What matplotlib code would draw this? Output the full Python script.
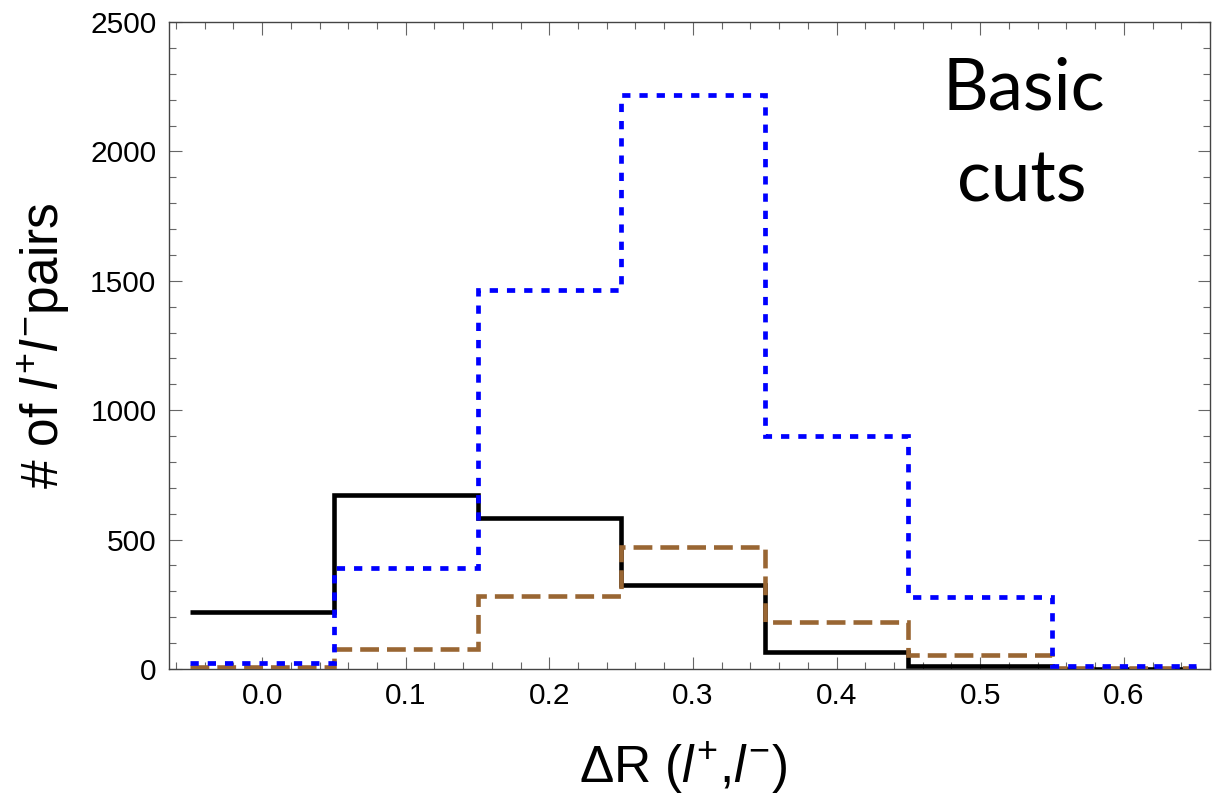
import matplotlib
matplotlib.use("Agg")
import matplotlib.pyplot as plt
from matplotlib.ticker import MultipleLocator, FormatStrFormatter

# ---- data ----
bin_edges = [-0.05, 0.05, 0.15, 0.25, 0.35, 0.45, 0.55, 0.65]
black_counts = [219, 672, 585, 326, 64, 11, 1]
brown_counts = [8, 77, 282, 472, 182, 55, 3]
blue_counts = [22, 390, 1466, 2218, 900, 277, 13]
x_ticks = [0.0, 0.1, 0.2, 0.3, 0.4, 0.5, 0.6]
y_ticks = [0, 500, 1000, 1500, 2000, 2500]

plt.rcParams['font.family'] = ['Liberation Sans', 'DejaVu Sans']
plt.rcParams['mathtext.fontset'] = 'custom'
plt.rcParams['mathtext.rm'] = 'Liberation Sans'
plt.rcParams['mathtext.it'] = 'Liberation Sans:italic'

W, H = 1212, 798
fig = plt.figure(figsize=(W / 100, H / 100), dpi=100)
ax = fig.add_axes([169 / W, 1 - 669 / H, (1210 - 169) / W, (669 - 22) / H])

ax.stairs(black_counts, bin_edges, baseline=None, color='black', lw=3.3, zorder=3)
ax.stairs(brown_counts, bin_edges, baseline=None, color='#996633', lw=3.3,
          linestyle=(0, (4.1, 1.75)), zorder=4)
ax.stairs(blue_counts, bin_edges, baseline=None, color='#0000FF', lw=3.4,
          linestyle=(0, (1.75, 1.9)), zorder=5)

ax.set_xlim(-0.0648, 0.660)
ax.set_ylim(0, 2500)
ax.set_xticks(x_ticks)
ax.set_yticks(y_ticks)
ax.xaxis.set_major_formatter(FormatStrFormatter('%.1f'))
ax.xaxis.set_minor_locator(MultipleLocator(0.02))
ax.yaxis.set_minor_locator(MultipleLocator(100))

ax.tick_params(which='both', direction='in', top=True, right=True,
               color='#666666', width=0.8, labelsize=21.5)
ax.tick_params(which='major', length=9)
ax.tick_params(which='minor', length=5)
ax.tick_params(axis='x', which='major', pad=9)
ax.tick_params(axis='y', which='major', pad=9)
for s in ax.spines.values():
    s.set_color('#444444')
    s.set_linewidth(1.0)

fig.text(683 / W, 1 - 768 / H, r'ΔR ($l^{+}$,$l^{-}$)',
         ha='center', va='center', fontsize=37)
fig.text(44 / W, 1 - 346 / H, r'# of $l^{+}l^{-}$pairs', rotation=90,
         ha='center', va='center', fontsize=37)

fig.text(1024 / W, 1 - 110 / H, 'Basic', ha='center', va='baseline',
         fontsize=51, family=['Lato', 'DejaVu Sans'])
fig.text(1022 / W, 1 - 202 / H, 'cuts', ha='center', va='baseline',
         fontsize=51, family=['Lato', 'DejaVu Sans'])

fig.savefig('out.png', dpi=100)
